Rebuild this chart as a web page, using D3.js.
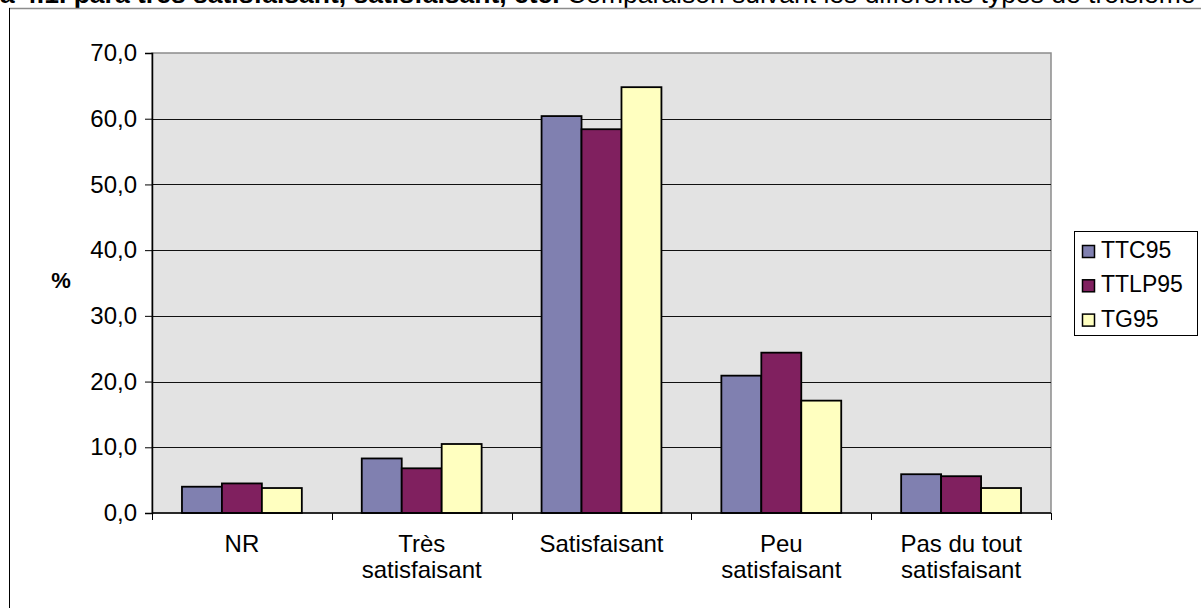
<!DOCTYPE html>
<html>
<head>
<meta charset="utf-8">
<script src="https://cdn.jsdelivr.net/npm/d3@7"></script>
<style>
  body { margin: 0; background: #fff; }
  svg { display: block; font-family: "Liberation Sans", Arial, sans-serif; }
</style>
</head>
<body>
<svg id="chart" width="1201" height="608"></svg>
<script>
// Data
var categories = ["NR", "Très satisfaisant", "Satisfaisant", "Peu satisfaisant", "Pas du tout satisfaisant"];
var catLines = [["NR"], ["Très", "satisfaisant"], ["Satisfaisant"], ["Peu", "satisfaisant"], ["Pas du tout", "satisfaisant"]];
var seriesNames = ["TTC95", "TTLP95", "TG95"];
var TTC95 = [4.0, 8.3, 60.4, 20.9, 5.9];
var TTLP95 = [4.5, 6.8, 58.4, 24.4, 5.6];
var TG95 = [3.8, 10.5, 64.8, 17.1, 3.8];
var yTicks = [0, 10, 20, 30, 40, 50, 60, 70];
var colors = ["#8080b0", "#80205f", "#ffffc0"];

var values = [TTC95, TTLP95, TG95];

const svg = d3.select("#chart");

// Setup margins
const plot = { left: 152, right: 1051, top: 53, bottom: 513 };

// Title (cut off at top)
var title = svg.append("text")
  .attr("x", 0)
  .attr("y", 3)
  .style("font-size", "26.5px")
  .attr("fill", "#000");
title.append("tspan").style("font-weight", "bold").text("à 4.1. para très satisfaisant, satisfaisant, etc.");
title.append("tspan").text(" Comparaison suivant les différents types de troisième");

// chart area border
svg.append("line")
  .attr("x1", 9).attr("x2", 1201).attr("y1", 8.5).attr("y2", 8.5)
  .attr("stroke", "#8c8c8c").attr("stroke-width", 1.5);
svg.append("line")
  .attr("x1", 9.5).attr("x2", 9.5).attr("y1", 8).attr("y2", 608)
  .attr("stroke", "#000").attr("stroke-width", 1);

// Scales
const x0 = d3.scaleBand()
  .domain(categories)
  .range([plot.left, plot.right])
  .padding(0);

const groupW = x0.bandwidth() * 2 / 3;
const x1 = d3.scaleBand()
  .domain(seriesNames)
  .range([0, groupW])
  .padding(0);

const y = d3.scaleLinear()
  .domain([0, 70])
  .range([plot.bottom, plot.top]);

// Plot background
svg.append("rect")
  .attr("x", plot.left).attr("y", plot.top)
  .attr("width", plot.right - plot.left)
  .attr("height", plot.bottom - plot.top)
  .attr("fill", "#e3e3e3")
  .attr("stroke", "#8c8c8c")
  .attr("stroke-width", 1.5);

// Grid lines
svg.append("g")
  .selectAll("line")
  .data(yTicks.filter(d => d > 0 && d < 70))
  .enter()
  .append("line")
  .attr("x1", plot.left).attr("x2", plot.right)
  .attr("y1", d => Math.round(y(d)) + 0.5)
  .attr("y2", d => Math.round(y(d)) + 0.5)
  .attr("stroke", "#111")
  .attr("stroke-width", 1.2);

// Bars
const groups = svg.append("g")
  .selectAll("g")
  .data(categories)
  .enter()
  .append("g")
  .attr("transform", d => `translate(${x0(d) + (x0.bandwidth() - groupW) / 2},0)`);

groups.selectAll("rect")
  .data((d, i) => seriesNames.map((s, j) => ({ s: s, v: values[j][i], c: colors[j] })))
  .enter()
  .append("rect")
  .attr("x", d => x1(d.s))
  .attr("y", d => y(d.v))
  .attr("width", x1.bandwidth())
  .attr("height", d => y(0) - y(d.v))
  .attr("fill", d => d.c)
  .attr("stroke", "#000")
  .attr("stroke-width", 1.8);

// Y axis
const yAxis = d3.axisLeft(y)
  .tickValues(yTicks)
  .tickSize(7)
  .tickPadding(8)
  .tickFormat(d => d3.format(".1f")(d).replace(".", ","));

const yg = svg.append("g")
  .attr("transform", `translate(${plot.left},0)`)
  .call(yAxis);
yg.select(".domain").attr("stroke", "#000").attr("stroke-width", 1.5);
yg.selectAll(".tick line").attr("stroke", "#000");
yg.selectAll(".tick text")
  .style("font-size", "24px")
  .style("font-family", "Liberation Sans, Arial, sans-serif")
  .attr("fill", "#000");

// X axis line + ticks at category boundaries
svg.append("line")
  .attr("x1", plot.left).attr("x2", plot.right)
  .attr("y1", plot.bottom).attr("y2", plot.bottom)
  .attr("stroke", "#000").attr("stroke-width", 1.5);

var bounds = categories.map(d => x0(d)).concat([plot.right]);
svg.append("g")
  .selectAll("line")
  .data(bounds)
  .enter()
  .append("line")
  .attr("x1", d => Math.round(d) + 0.5).attr("x2", d => Math.round(d) + 0.5)
  .attr("y1", plot.bottom).attr("y2", plot.bottom + 7)
  .attr("stroke", "#000");

// Category labels
var labels = svg.append("g")
  .selectAll("text")
  .data(categories)
  .enter()
  .append("text")
  .attr("x", d => x0(d) + x0.bandwidth() / 2)
  .attr("y", 552)
  .attr("text-anchor", "middle")
  .style("font-size", "24px")
  .attr("fill", "#000");

labels.each(function(d, i) {
  var t = d3.select(this);
  catLines[i].forEach(function(line, k) {
    t.append("tspan")
      .attr("x", x0(d) + x0.bandwidth() / 2)
      .attr("dy", k == 0 ? 0 : 26)
      .text(line);
  });
});

// Y axis title
svg.append("text")
  .attr("x", 61)
  .attr("y", 288)
  .attr("text-anchor", "middle")
  .style("font-size", "22px")
  .style("font-weight", "bold")
  .text("%");

// Legend
const legend = svg.append("g");
legend.append("rect")
  .attr("x", 1074.5).attr("y", 231.5)
  .attr("width", 123).attr("height", 104)
  .attr("fill", "#fff")
  .attr("stroke", "#000");

seriesNames.forEach(function(s, i) {
  var base = 258 + i * 34.3;
  legend.append("rect")
    .attr("x", 1082.5).attr("y", base - 12.5)
    .attr("width", 12).attr("height", 12)
    .attr("fill", colors[i])
    .attr("stroke", "#000")
    .attr("stroke-width", 1.5);
  legend.append("text")
    .attr("x", 1101)
    .attr("y", base)
    .style("font-size", "23px")
    .attr("fill", "#000")
    .text(s);
});
</script>
</body>
</html>
